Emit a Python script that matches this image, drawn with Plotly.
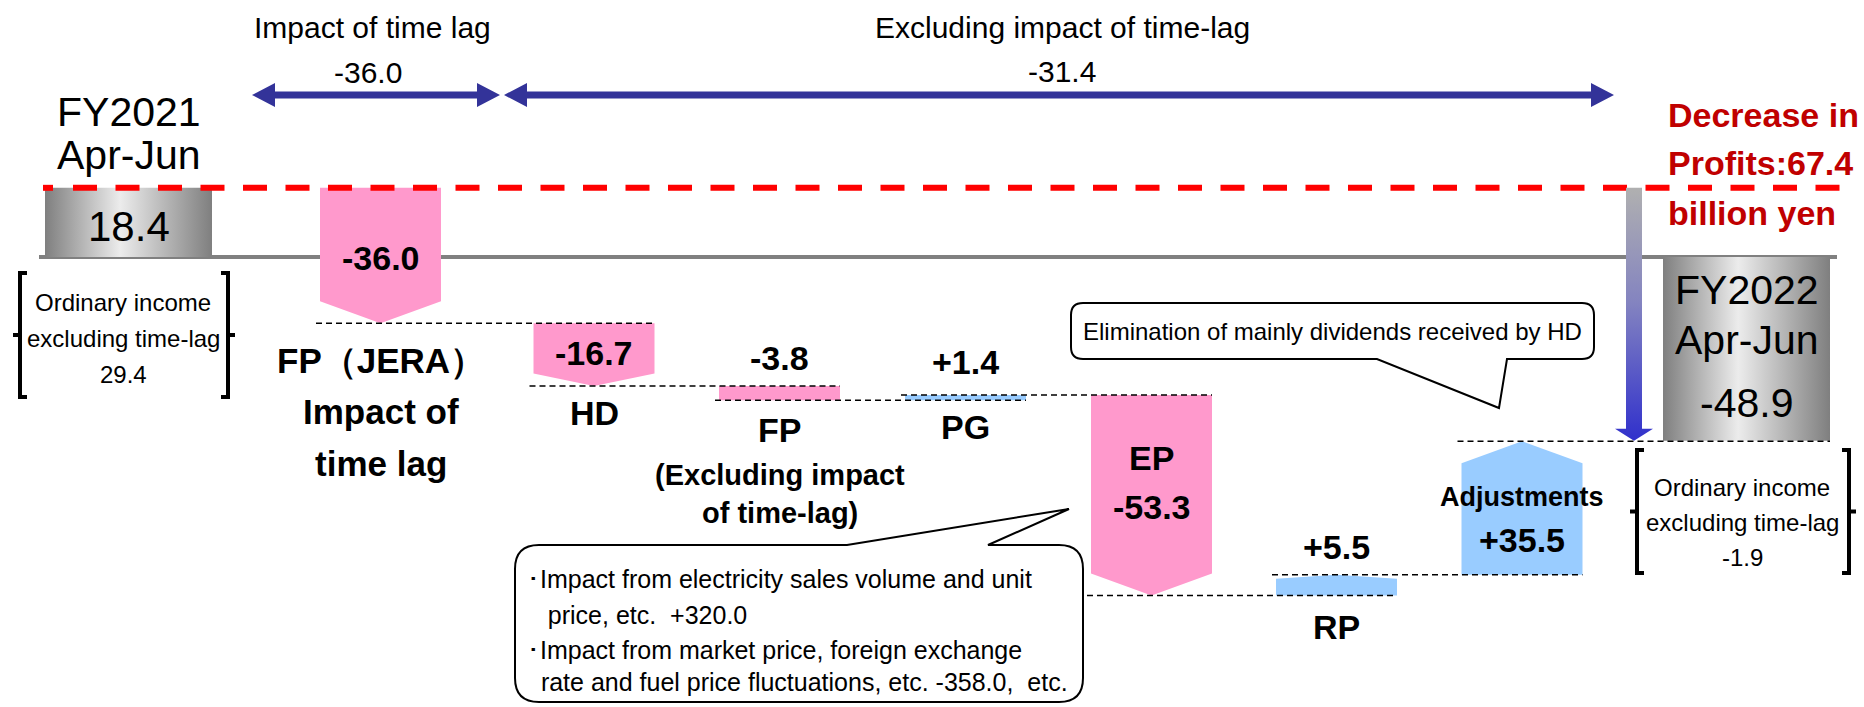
import plotly.graph_objects as go

# ---------------- data ----------------
start_label = ["FY2021", "Apr-Jun"]
start_value = 18.4
step_labels = [["FP（JERA）", "Impact of", "time lag"], ["HD"], ["FP"], ["PG"], ["EP"], ["RP"], ["Adjustments"]]
step_values = [-36.0, -16.7, -3.8, 1.4, -53.3, 5.5, 35.5]
end_label = ["FY2022", "Apr-Jun"]
end_value = -48.9
excl_start = 29.4
excl_end = -1.9
time_lag_total = -36.0
excl_total = -31.4
decrease_total = 67.4
ep_detail = [320.0, -358.0]

# ---------------- layout constants (pixels) ----------------
W, H = 1864, 707
PX = 3.76          # pixels per billion yen
ZERO = 257         # pixel row of the zero line
BAR_X = [128.5, 380.5, 594, 779.5, 965.5, 1151.5, 1336.5, 1522, 1746.5]
END_W, STEP_W = 167, 121
PINK, BLUE = "#ff99cc", "#99ccff"
FONT = "Liberation Sans, Arial, sans-serif"

fig = go.Figure()


def poly(xs, ys, **kw):
    fig.add_trace(go.Scatter(x=xs + [xs[0]], y=ys + [ys[0]], mode="lines", fill="toself",
                             line=dict(width=0), hoverinfo="skip", **kw))


def hline(x0, x1, y, color, width, dash, yaxis="y"):
    fig.add_trace(go.Scatter(x=[x0, x1], y=[y, y], mode="lines", yaxis=yaxis,
                             line=dict(color=color, width=width, dash=dash), hoverinfo="skip"))


# zero line
hline(39, 1837, 0, "#808080", 4, "solid")

# levels
levels = [start_value]
for v in step_values:
    levels.append(levels[-1] + v)

grad = [[0, "#7f7f7f"], [0.45, "#ececec"], [1, "#7f7f7f"]]
# start / end bars
for xc, val in [(BAR_X[0], start_value), (BAR_X[-1], end_value)]:
    x0, x1 = xc - END_W / 2, xc + END_W / 2
    poly([x0, x1, x1, x0], [0, 0, val, val], fillcolor="#aaaaaa",
         fillgradient=dict(type="horizontal", colorscale=grad))

# step arrows
for i, v in enumerate(step_values):
    xc = BAR_X[i + 1]
    x0, x1 = xc - STEP_W / 2, xc + STEP_W / 2
    prev, new = levels[i], levels[i + 1]
    h_px = abs(v) * PX
    tip = (min(22, 0.2 * h_px) if h_px > 15 else 0) / PX
    col = PINK if v < 0 else BLUE
    if v < 0:
        poly([x0, x1, x1, xc, x0], [prev, prev, new + tip, new, new + tip], fillcolor=col)
    else:
        poly([x0, x1, x1, xc, x0], [prev, prev, new - tip, new, new - tip], fillcolor=col)

# connectors
for i in range(len(step_values)):
    b = i + 1
    wl = STEP_W
    wr = END_W if b + 1 == len(BAR_X) - 1 else STEP_W
    hline(BAR_X[b] - wl / 2 - 4, BAR_X[b + 1] + wr / 2, levels[i + 1], "black", 1.5, "6px,4px")

# red dashed line at starting level
hline(43, 53, start_value, "#ff0000", 6, "solid")
hline(73, 1842, start_value, "#ff0000", 6, "24px,18.5px")

# gradient total arrow
ax = 1634
sh, hw, hh = 8, 19, 12 / PX
poly([ax - sh, ax + sh, ax + sh, ax + hw, ax, ax - hw, ax - sh],
     [start_value, start_value, end_value + hh, end_value + hh, end_value, end_value + hh, end_value + hh],
     fillcolor="#6666cc",
     fillgradient=dict(type="vertical", colorscale=[[0, "#3030cc"], [0.55, "#8484c0"], [1, "#b0b0b0"]]))

# top double arrows (pixel coordinates on y2)
def dbl_arrow(x0, x1, y, t=3.5, L=23, hhp=12):
    xs = [x0, x0 + L, x0 + L, x1 - L, x1 - L, x1, x1 - L, x1 - L, x0 + L, x0 + L]
    ys = [y, y - hhp, y - t, y - t, y - hhp, y, y + hhp, y + t, y + t, y + hhp]
    fig.add_trace(go.Scatter(x=xs + [xs[0]], y=ys + [ys[0]], mode="lines", fill="toself", yaxis="y2",
                             fillcolor="#333399", line=dict(width=0), hoverinfo="skip"))


dbl_arrow(252, 500, 95)
dbl_arrow(504, 1614, 95)

# ---------------- shapes: callouts and brackets ----------------
shapes = []


def callout_top(x0, y0, x1, y1, r, a, b, tip):
    p = (f"M {x0+r},{y0} L {a},{y0} L {tip[0]},{tip[1]} L {b},{y0} L {x1-r},{y0} Q {x1},{y0} {x1},{y0+r} "
         f"L {x1},{y1-r} Q {x1},{y1} {x1-r},{y1} L {x0+r},{y1} Q {x0},{y1} {x0},{y1-r} "
         f"L {x0},{y0+r} Q {x0},{y0} {x0+r},{y0} Z")
    return dict(type="path", path=p, xref="x", yref="y2", line=dict(color="black", width=2), fillcolor="white")


def callout_bottom(x0, y0, x1, y1, r, a, b, tip):
    p = (f"M {x0+r},{y0} L {x1-r},{y0} Q {x1},{y0} {x1},{y0+r} L {x1},{y1-r} Q {x1},{y1} {x1-r},{y1} "
         f"L {b},{y1} L {tip[0]},{tip[1]} L {a},{y1} L {x0+r},{y1} Q {x0},{y1} {x0},{y1-r} "
         f"L {x0},{y0+r} Q {x0},{y0} {x0+r},{y0} Z")
    return dict(type="path", path=p, xref="x", yref="y2", line=dict(color="black", width=2), fillcolor="white")


shapes.append(callout_top(515, 545, 1083, 702, 24, 847, 988, (1069, 509)))
shapes.append(callout_bottom(1071, 303, 1594, 359, 12, 1377, 1507, (1499, 408)))


def bracket(x0, x1, y0, y1):
    ym = (y0 + y1) / 2
    out = []
    out.append(dict(type="path", path=f"M {x0+7},{y0} L {x0},{y0} L {x0},{y1} L {x0+7},{y1}",
                    xref="x", yref="y2", line=dict(color="black", width=4)))
    out.append(dict(type="path", path=f"M {x1-7},{y0} L {x1},{y0} L {x1},{y1} L {x1-7},{y1}",
                    xref="x", yref="y2", line=dict(color="black", width=4)))
    out.append(dict(type="line", x0=x0 - 7, x1=x0, y0=ym, y1=ym, xref="x", yref="y2",
                    line=dict(color="black", width=4)))
    out.append(dict(type="line", x0=x1, x1=x1 + 7, y0=ym, y1=ym, xref="x", yref="y2",
                    line=dict(color="black", width=4)))
    return out


shapes += bracket(20, 228, 273, 397)
shapes += bracket(1637, 1849, 450, 573)

# ---------------- annotations ----------------
ann = []


def txt(x, y, s, size, bold=False, color="black", xanchor="center", yanchor="middle"):
    if bold:
        s = f"<b>{s}</b>"
    ann.append(dict(x=x, y=y, xref="x", yref="y2", text=s, showarrow=False, xanchor=xanchor,
                    yanchor=yanchor, font=dict(family=FONT, size=size, color=color), borderpad=0))


def fmt(v):
    return f"{v:+.1f}"


# unit note, mostly above the top edge (only the bottoms of the brackets show)
ann.append(dict(x=124 / W, y=1 + 18.5 / H, xref="paper", yref="paper", text="(Unit: billion yen)",
                showarrow=False, xanchor="center", yanchor="middle",
                font=dict(family=FONT, size=30, color="black"), borderpad=0))
txt(372, 27, "Impact of time lag", 30)
txt(368, 72, f"{time_lag_total:.1f}", 30)
txt(1062, 27, "Excluding impact of time-lag", 30)
txt(1062, 71, f"{excl_total:.1f}", 30)

txt(BAR_X[0], 112, start_label[0], 41)
txt(BAR_X[0], 155, start_label[1], 41)
txt(BAR_X[0], 226, f"{start_value:.1f}", 42)
txt(123, 302, "Ordinary income", 24)
txt(123, 338, "excluding time-lag", 24)
txt(123, 374, f"{excl_start:.1f}", 24)

# step labels
txt(BAR_X[1], 258, f"{step_values[0]:.1f}", 34, True)
for k, line in enumerate(step_labels[0]):
    txt(BAR_X[1], 360 + 51.5 * k, line, 35, True)
txt(BAR_X[2], 353, f"{step_values[1]:.1f}", 34, True)
txt(BAR_X[2], 413, step_labels[1][0], 34, True)
txt(BAR_X[3], 358, f"{step_values[2]:.1f}", 34, True)
txt(BAR_X[3], 430, step_labels[2][0], 34, True)
txt(BAR_X[3], 475, "(Excluding impact", 29, True)
txt(BAR_X[3], 513, "of time-lag)", 29, True)
txt(BAR_X[4], 362, fmt(step_values[3]), 34, True)
txt(BAR_X[4], 427, step_labels[3][0], 34, True)
txt(BAR_X[5], 458, step_labels[4][0], 34, True)
txt(BAR_X[5], 507, f"{step_values[4]:.1f}", 34, True)
txt(BAR_X[6], 547, fmt(step_values[5]), 34, True)
txt(BAR_X[6], 627, step_labels[5][0], 34, True)
txt(BAR_X[7], 497, step_labels[6][0], 27, True)
txt(BAR_X[7], 540, fmt(step_values[6]), 34, True)

txt(BAR_X[8], 290, end_label[0], 41)
txt(BAR_X[8], 340, end_label[1], 41)
txt(BAR_X[8], 403, f"{end_value:.1f}", 41)
txt(1742, 487, "Ordinary income", 24)
txt(1742, 522, "excluding time-lag", 24)
txt(1742, 557, f"{excl_end:.1f}", 24)

txt(1667, 115, "Decrease in", 34, True, "#c00000", "left")
txt(1667, 163, f"Profits:{decrease_total:.1f}", 34, True, "#c00000", "left")
txt(1667, 213, "billion yen", 34, True, "#c00000", "left")

txt(1332, 331, "Elimination of mainly dividends received by HD", 24)

nb = "\u00a0"
txt(526, 579, "･Impact from electricity sales volume and unit", 25, xanchor="left")
txt(526, 615, f"{nb*3}price, etc.{nb*2}{ep_detail[0]:+.1f}", 25, xanchor="left")
txt(526, 650, "･Impact from market price, foreign exchange", 25, xanchor="left")
txt(526, 682, f"{nb*2}rate and fuel price fluctuations, etc. {ep_detail[1]:.1f},{nb*2}etc.", 25, xanchor="left")

fig.update_layout(
    width=W, height=H, margin=dict(l=0, r=0, t=0, b=0),
    paper_bgcolor="white", plot_bgcolor="white", showlegend=False,
    xaxis=dict(range=[0, W], visible=False, fixedrange=True),
    yaxis=dict(range=[(ZERO - H) / PX, ZERO / PX], visible=False, fixedrange=True),
    yaxis2=dict(range=[H, 0], overlaying="y", visible=False, fixedrange=True),
    shapes=shapes, annotations=ann,
)

fig.write_html("out.html", config={"displayModeBar": False})
